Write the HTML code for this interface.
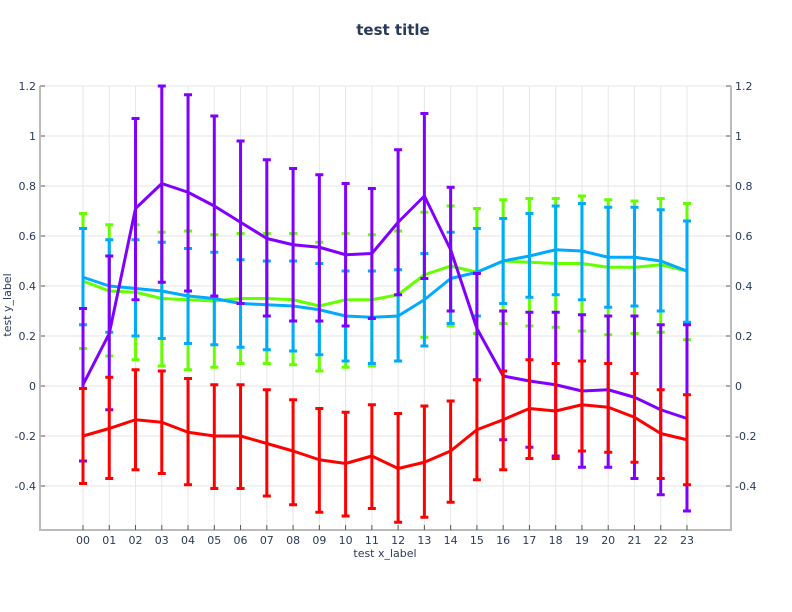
<!DOCTYPE html>
<html><head><meta charset="utf-8"><style>body{margin:0;background:#fff}svg{display:block}text{font-family:"DejaVu Sans","Liberation Sans",sans-serif;fill:#2a3a5a}</style></head>
<body>
<svg id="s" width="792" height="612" xmlns="http://www.w3.org/2000/svg"></svg>
<script>
const s=document.getElementById('s');
const X=i=>83+i*26.26, Y=v=>386-v*250;
let h='';
h+='<text x="393" y="35" text-anchor="middle" font-size="15" font-weight="bold">test title</text>';
// grid
for(let i=0;i<24;i++)h+=`<line x1="${X(i)}" y1="86" x2="${X(i)}" y2="530" stroke="#e6e6e6" stroke-width="1"/>`;
const yt=[-0.4,-0.2,0,0.2,0.4,0.6,0.8,1,1.2];
for(const v of yt){const y=Y(v);h+=`<line x1="40" y1="${y}" x2="731" y2="${y}" stroke="#e6e6e6"/>`;
const l=(Math.round(v*10)/10).toString();
h+=`<line x1="40" y1="${y}" x2="45" y2="${y}" stroke="#555"/><line x1="726" y1="${y}" x2="731" y2="${y}" stroke="#555"/>`;
h+=`<text x="36" y="${y+4}" text-anchor="end" font-size="11">${l}</text><text x="735" y="${y+4}" font-size="11">${l}</text>`;}
h+='<line x1="40" y1="86" x2="40" y2="531" stroke="#bbb" stroke-width="2"/><line x1="731" y1="86" x2="731" y2="531" stroke="#bbb" stroke-width="2"/><line x1="39" y1="530" x2="732" y2="530" stroke="#bbb" stroke-width="2"/>';
for(let i=0;i<24;i++){h+=`<line x1="${X(i)}" y1="530" x2="${X(i)}" y2="525" stroke="#555"/><text x="${X(i)}" y="544" text-anchor="middle" font-size="11">${String(i).padStart(2,'0')}</text>`;}
h+='<text x="385" y="557" text-anchor="middle" font-size="11">test x_label</text>';
h+='<text transform="translate(11,305) rotate(-90)" text-anchor="middle" font-size="11">test y_label</text>';
const G=[[.42,.15,.69],[.38,.12,.645],[.375,.105,.645],[.35,.08,.615],[.345,.065,.62],[.34,.075,.605],[.35,.09,.61],[.35,.09,.61],[.345,.085,.61],[.32,.06,.575],[.345,.075,.61],[.345,.08,.605],[.365,.1,.62],[.445,.195,.695],[.48,.24,.72],[.455,.21,.71],[.5,.25,.745],[.495,.24,.75],[.49,.235,.75],[.49,.22,.76],[.475,.205,.745],[.475,.21,.74],[.485,.215,.75],[.46,.185,.73]];
const B=[[.435,.245,.63],[.4,.215,.585],[.39,.2,.585],[.38,.19,.575],[.36,.17,.55],[.35,.165,.535],[.33,.155,.505],[.325,.145,.5],[.32,.14,.5],[.305,.125,.49],[.28,.1,.46],[.275,.09,.46],[.28,.1,.465],[.345,.16,.53],[.43,.25,.615],[.455,.28,.63],[.5,.33,.67],[.52,.355,.69],[.545,.365,.72],[.54,.345,.73],[.515,.315,.715],[.515,.32,.715],[.5,.3,.705],[.46,.255,.66]];
const P=[[.005,-.3,.31],[.21,-.095,.52],[.71,.345,1.07],[.81,.415,1.2],[.775,.38,1.165],[.72,.36,1.08],[.655,.33,.98],[.59,.28,.905],[.565,.26,.87],[.555,.26,.845],[.525,.24,.81],[.53,.27,.79],[.655,.365,.945],[.76,.43,1.09],[.545,.3,.795],[.23,.025,.45],[.04,-.215,.3],[.02,-.245,.295],[.005,-.28,.295],[-.02,-.325,.285],[-.015,-.325,.28],[-.045,-.37,.28],[-.095,-.435,.245],[-.13,-.5,.245]];
const R=[[-.2,-.39,-.01],[-.17,-.37,.035],[-.135,-.335,.065],[-.145,-.35,.06],[-.185,-.395,.03],[-.2,-.41,.005],[-.2,-.41,.005],[-.23,-.44,-.015],[-.26,-.475,-.055],[-.295,-.505,-.09],[-.31,-.52,-.105],[-.28,-.49,-.075],[-.33,-.545,-.11],[-.305,-.525,-.08],[-.26,-.465,-.06],[-.175,-.375,.025],[-.135,-.335,.06],[-.09,-.29,.105],[-.1,-.29,.09],[-.075,-.26,.1],[-.085,-.265,.09],[-.125,-.305,.05],[-.19,-.37,-.015],[-.215,-.395,-.035]];
function ser(d,c){let o='';d.forEach((p,i)=>{const x=X(i);o+=`<line x1="${x}" y1="${Y(p[1])}" x2="${x}" y2="${Y(p[2])}" stroke="${c}" stroke-width="3"/>`;
for(const v of [p[1],p[2]])o+=`<line x1="${x-4}" y1="${Y(v)}" x2="${x+4}" y2="${Y(v)}" stroke="${c}" stroke-width="3"/>`;});
o+=`<polyline fill="none" stroke="${c}" stroke-width="3" stroke-linejoin="round" points="${d.map((p,i)=>X(i)+','+Y(p[0])).join(' ')}"/>`;return o;}
h+=ser(G,'#66ff00')+ser(B,'#00aaff')+ser(P,'#8000ff')+ser(R,'#ff0000');
s.innerHTML=h;
</script>
</body></html>
